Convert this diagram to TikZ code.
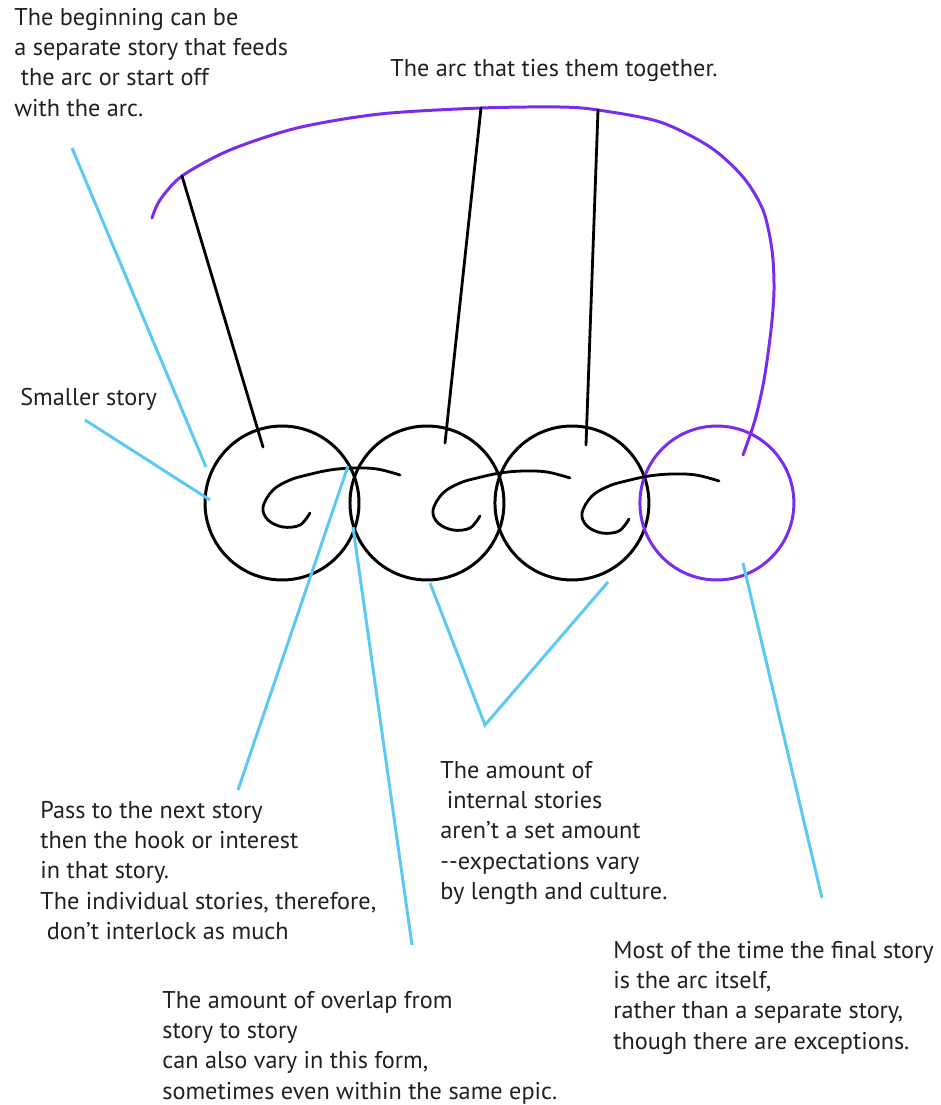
\documentclass[tikz,border=0pt]{standalone}
\usepackage{fontspec}
\setmainfont{PT Sans}
\usepackage{xcolor}
\usetikzlibrary{positioning}

\definecolor{arcpurple}{HTML}{7B2BF0}
\definecolor{pointerblue}{HTML}{5CC8F4}
\definecolor{notetext}{HTML}{231F20}

% the curl of each story: starts at the tip, ends in the small hook
\newcommand{\storyhook}[1]{%
  \draw[string, shift={(#1)}] plot[smooth, tension=0.6] coordinates {
    (137,-32) (114,-38) (90,-39) (67,-37) (44,-32) (27,-27) (10,-17)
    (0,0) (5,13) (20,20) (37,18) (47,6)};}

\begin{document}
\begin{tikzpicture}[
    x=0.02cm, y=-0.02cm,
    node distance=-0.18cm,
    story/.style={circle, draw=#1, line width=1.7pt, minimum size=3.08cm, inner sep=0pt, outer sep=0pt},
    story/.default=black,
    string/.style={line width=1.6pt, line cap=round},
    tiearc/.style={draw=arcpurple, line width=1.7pt, line cap=round},
    pointer/.style={draw=pointerblue, line width=1.7pt},
    note/.style={anchor=north west, inner sep=0pt, align=left, text=notetext, font=\fontsize{13.8}{17.2}\selectfont},
]
\useasboundingbox (0,0) rectangle (940,1105);

% Stories
\node[story] (s1) at (282,503) {};
\node[story, right=of s1] (s2) {};
\node[story, right=of s2] (s3) {};
\node[story=arcpurple, right=of s3] (s4) {};

% Hooks inside the stories
\storyhook{263,507}
\storyhook{433,510}
\storyhook{582,513}

% The arc
\coordinate (tie1) at (182,176);
\coordinate (tie2) at (481,108);
\coordinate (tie3) at (598,110);
\draw[tiearc] plot[smooth] coordinates {
  (152,218) (160,200) (tie1) (230,150) (297,128) (380,114) (tie2) (560,107)
  (tie3) (660,122) (710,147) (743,177) (763,210) (772,250) (774,290)
  (771,330) (764,380) (755,420) (743,455)};

% Strings from the arc to the stories
\coordinate (knot1) at (263,447);
\coordinate (knot2) at (445,443);
\coordinate (knot3) at (586,445);
\draw[string] (tie1) -- (knot1);
\draw[string] (tie2) -- (knot2);
\draw[string] (tie3) -- (knot3);

% Pointers
\coordinate (p1a) at (72,148);   \coordinate (p1b) at (206,467);
\coordinate (p2a) at (85,420);   \coordinate (p2b) at (210,500);
\coordinate (p3a) at (348,466);  \coordinate (p3b) at (238,790);
\coordinate (p4a) at (353,527);  \coordinate (p4b) at (412,945);
\coordinate (p5a) at (430,583);  \coordinate (p5b) at (485,725);  \coordinate (p5c) at (608,582);
\coordinate (p6a) at (743,563);  \coordinate (p6b) at (822,898);
\draw[pointer] (p1a) -- (p1b);
\draw[pointer] (p2a) -- (p2b);
\draw[pointer] (p3a) -- (p3b);
\draw[pointer] (p4a) -- (p4b);
\draw[pointer] (p5a) -- (p5b) -- (p5c);
\draw[pointer] (p6a) -- (p6b);

% Notes
\node[note] (begin) at (14,8) {The beginning can be\\a separate story that feeds\\~the arc or start off\\with the arc.};
\node[note] (title) at (390,59) {The arc that ties them together.};
\node[note] (smaller) at (20,388) {Smaller story};
\node[note] (pass) at (40,801) {Pass to the next story\\then the hook or interest\\in that story.\\The individual stories, therefore,\\~don’t interlock as much};
\node[note] (internal) at (440,761) {The amount of\\~internal stories\\aren’t a set amount\\-{}-expectations vary\\by length and culture.};
\node[note] (overlap) at (162,991) {The amount of overlap from\\story to story\\can also vary in this form,\\sometimes even within the same epic.};
\node[note] (final) at (613,941) {Most of the time the final story\\is the arc itself,\\rather than a separate story,\\though there are exceptions.};

\end{tikzpicture}
\end{document}
